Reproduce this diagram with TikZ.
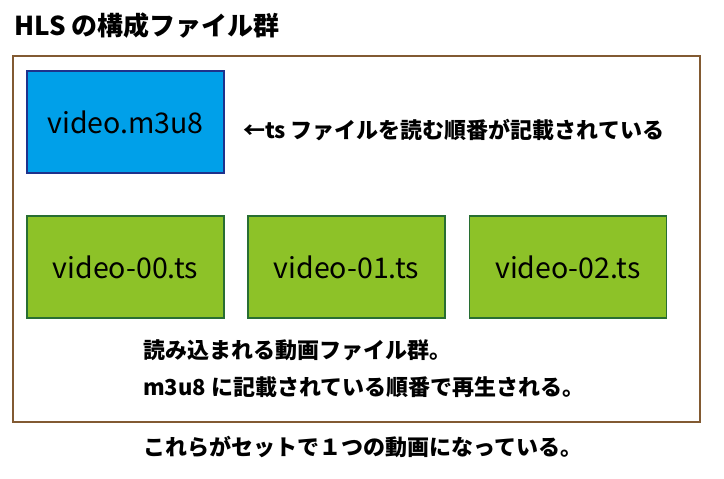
\documentclass[tikz,border=0pt]{standalone}
\usepackage{fontspec}
\setmainfont{Noto Sans CJK JP}
\usetikzlibrary{positioning}

\definecolor{mfill}{RGB}{0,160,233}
\definecolor{mline}{RGB}{30,50,140}
\definecolor{tsfill}{RGB}{141,194,40}
\definecolor{tsline}{RGB}{40,110,50}
\definecolor{frameline}{RGB}{130,90,50}

\tikzset{
  filebox/.style={draw, line width=1.5pt, minimum width=197pt, minimum height=102pt,
    inner sep=0pt, font=\fontsize{28.5}{32}\selectfont},
  mbox/.style={filebox, fill=mfill, draw=mline},
  tsbox/.style={filebox, fill=tsfill, draw=tsline},
  note/.style={anchor=west, inner sep=0pt, font=\bfseries\fontsize{22}{26}\selectfont}
}

\begin{document}
\begin{tikzpicture}[x=1pt,y=-1pt]
   \useasboundingbox (0,0) rectangle (724,479);

   %% Titel
   \node[note, font=\bfseries\fontsize{26}{30}\selectfont] (title) at (14,26) {HLS の構成ファイル群};

   %% Rahmen
   \draw[frameline, line width=1.5pt] (13,56) rectangle (700,422);

   %% Dateien
   \node[mbox] (m3u8) at (125.5,122) {video.m3u8};
   \node[tsbox] (ts0) at (125.5,267) {video-00.ts};
   \node[tsbox] (ts1) at (346.5,267) {video-01.ts};
   \node[tsbox] (ts2) at (568,267) {video-02.ts};

   %% Texte
   \node[note] (order) at (243,130) {←ts ファイルを読む順番が記載されている};
   \node[note] (tsnote) at (143,350) {読み込まれる動画ファイル群。};
   \node[note] (play) at (143,387) {m3u8 に記載されている順番で再生される。};
   \node[note] (set) at (143,447) {これらがセットで１つの動画になっている。};
\end{tikzpicture}
\end{document}
